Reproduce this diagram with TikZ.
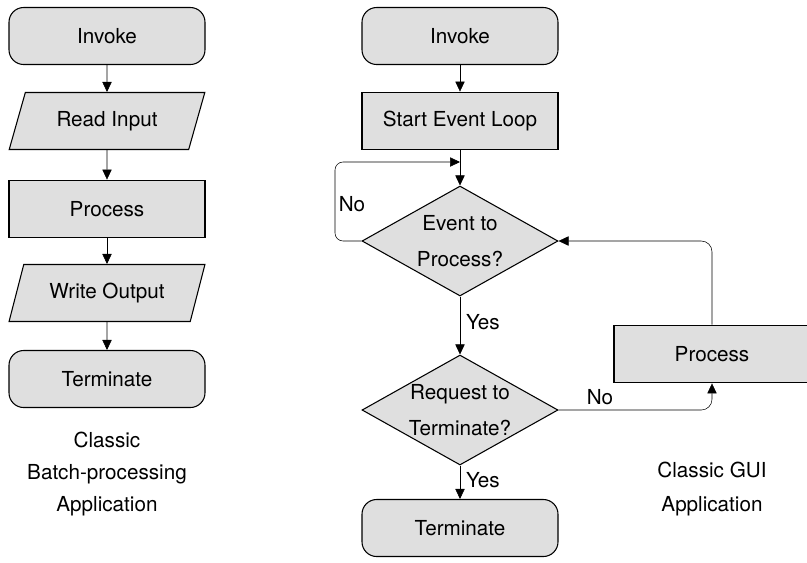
\documentclass[tikz,border=0pt]{standalone}
\usepackage{fontspec}
\setmainfont{TeX Gyre Heros}
\usetikzlibrary{arrows.meta, shapes.geometric, positioning}

\begin{document}
\begin{tikzpicture}[x=0.75pt, y=-0.75pt,
    font=\fontsize{15.5}{27}\selectfont,
    >={Triangle[length=7.5pt, width=7pt]},
    flow/.style={draw, line width=0.8pt, fill=gray!25, minimum width=147pt, minimum height=42.75pt, inner sep=0pt, align=center},
    startstop/.style={flow, rounded corners=11pt},
    iobox/.style={flow, trapezium, trapezium left angle=63, trapezium right angle=117, trapezium stretches=true},
    procbox/.style={flow, line width=1.4pt},
    decide/.style={flow, diamond, minimum height=82.5pt, aspect=1.78},
    caption/.style={align=center}]
\useasboundingbox (0,0) rectangle (807,562);
% batch processing
\node[startstop] (binvoke) at (107,36) {Invoke};
\node[iobox] (bread) at (107,121) {Read Input};
\node[procbox] (bproc) at (107,209) {Process};
\node[iobox] (bwrite) at (107,293) {Write Output};
\node[startstop] (bterm) at (107,379) {Terminate};
\node[caption, font=\fontsize{15.5}{24}\selectfont] (blabel) at (107,474) {Classic\\Batch-processing\\Application};
\draw[->] (binvoke) -- (bread);
\draw[->] (bread) -- (bproc);
\draw[->] (bproc) -- (bwrite);
\draw[->] (bwrite) -- (bterm);
% gui application
\node[startstop] (ginvoke) at (460,36) {Invoke};
\node[procbox] (gloop) at (460,121) {Start Event Loop};
\node[decide] (gevent) at (460,241) {Event to\\Process?};
\node[decide] (gquit) at (460,410) {Request to\\Terminate?};
\node[startstop] (gterm) at (460,528) {Terminate};
\node[procbox] (gproc) at (712,354) {Process};
\node[caption, font=\fontsize{15.5}{25.5}\selectfont] (glabel) at (712,489) {Classic GUI\\Application};
\coordinate (gjoin) at (460,162);
\draw[->] (ginvoke) -- (gloop);
\draw[->] (gloop) -- (gevent);
\draw[->, rounded corners=6pt] (gevent.west) -- (335,241) -- (335,162) -- (gjoin);
\node (gno1) at (352,204) {No};
\draw[->] (gevent) -- (gquit) node[pos=0.45, right=1pt] {Yes};
\draw[->] (gquit) -- (gterm) node[pos=0.45, right=1pt] {Yes};
\draw[->, rounded corners=8pt] (gquit.east) -| (gproc.south);
\node (gno2) at (600,397) {No};
\draw[->, rounded corners=8pt] (gproc.north) |- (gevent.east);
\end{tikzpicture}
\end{document}
